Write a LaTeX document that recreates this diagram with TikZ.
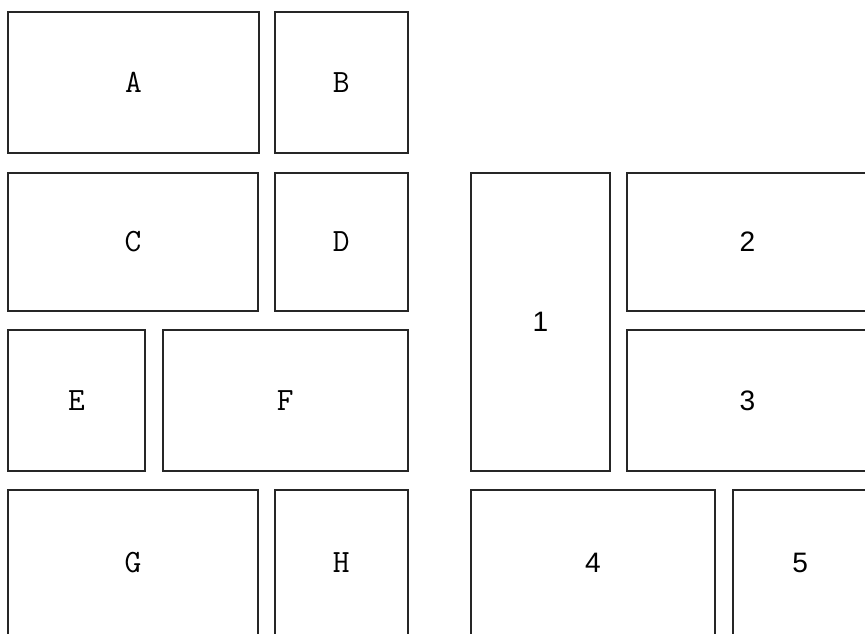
\documentclass[tikz,border=0pt]{standalone}
\usepackage{fontspec}
\newfontfamily\digitfont{Liberation Sans}
\usetikzlibrary{positioning}

\begin{document}
\begin{tikzpicture}[
  x=0.02cm, y=-0.02cm,
  cell/.style={draw=black!85, line width=1pt, inner sep=0pt},
  lcell/.style={cell, font=\ttfamily\fontsize{18.5}{18.5}\selectfont},
  ncell/.style={cell, font=\digitfont\fontsize{16}{16}\selectfont},
]
\useasboundingbox (0,0) rectangle (865,633);
\clip (0,0) rectangle (865,633);
% ---------- left block ----------
\node[lcell, minimum width=5.02cm, minimum height=2.82cm] (a) at (133.5,82.5) {A};
\node[lcell, minimum width=2.66cm, minimum height=2.82cm, right=0.28cm of a] (b) {B};
\node[lcell, minimum width=5.00cm, minimum height=2.76cm] (c) at (133,242) {C};
\node[lcell, minimum width=2.66cm, minimum height=2.76cm, right=0.30cm of c] (d) {D};
\node[lcell, minimum width=2.74cm, minimum height=2.82cm] (e) at (76.5,400.5) {E};
\node[lcell, minimum width=4.90cm, minimum height=2.82cm, right=0.32cm of e] (f) {F};
\node[lcell, minimum width=5.00cm, minimum height=2.92cm] (g) at (133,563) {G};
\node[lcell, minimum width=2.66cm, minimum height=2.92cm, right=0.30cm of g] (h) {H};
% ---------- right block ----------
\node[ncell, minimum width=2.78cm, minimum height=5.96cm] (n1) at (540.5,322) {1};
\node[ncell, minimum width=4.82cm, minimum height=2.76cm] (n2) at (747.5,242) {2};
\node[ncell, minimum width=4.82cm, minimum height=2.82cm] (n3) at (747.5,400.5) {3};
\node[ncell, minimum width=4.88cm, minimum height=2.92cm] (n4) at (593,563) {4};
\node[ncell, minimum width=2.70cm, minimum height=2.92cm, right=0.32cm of n4] (n5) {5};
\end{tikzpicture}
\end{document}
